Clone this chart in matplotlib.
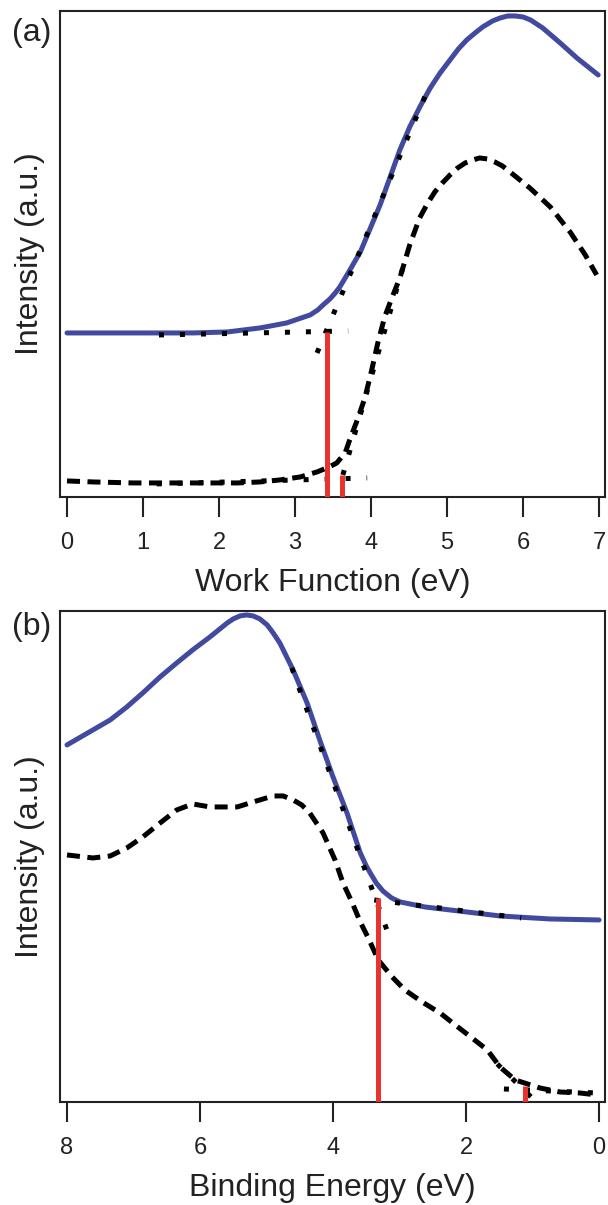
import matplotlib.pyplot as plt
import numpy as np

plt.rcParams['font.family'] = ['Liberation Sans', 'DejaVu Sans']

# ---- panel (a): work function ----
wf_x = [0.00, 0.79, 1.66, 2.11, 2.54, 2.89, 3.20, 3.30, 3.37, 3.46, 3.53, 3.59, 3.70,
        3.86, 4.12, 4.38, 4.51, 4.65, 4.78, 4.91, 5.04, 5.15, 5.26, 5.37, 5.47, 5.60,
        5.70, 5.80, 5.90, 6.00, 6.10, 6.26, 6.49, 6.71, 6.99]
wf_blue = [1.64, 1.64, 1.64, 1.65, 1.69, 1.74, 1.82, 1.87, 1.92, 1.98, 2.04, 2.10, 2.24,
           2.45, 2.92, 3.47, 3.70, 3.91, 4.09, 4.24, 4.37, 4.48, 4.57, 4.64, 4.70, 4.76,
           4.79, 4.81, 4.81, 4.80, 4.77, 4.69, 4.54, 4.39, 4.22]

wf_x2 = [0.00, 0.34, 0.87, 1.71, 2.24, 2.54, 2.80, 3.07, 3.29, 3.45, 3.55, 3.66, 3.72,
         3.82, 3.92, 4.01, 4.09, 4.18, 4.28, 4.38, 4.51, 4.64, 4.74, 4.84, 4.94, 5.04,
         5.14, 5.24, 5.34, 5.43, 5.53, 5.63, 5.73, 5.83, 6.09, 6.36, 6.62, 6.82, 6.97]
wf_dash = [0.16, 0.15, 0.14, 0.14, 0.14, 0.15, 0.17, 0.20, 0.25, 0.30, 0.34, 0.44, 0.57,
           0.77, 0.99, 1.27, 1.54, 1.80, 2.00, 2.19, 2.52, 2.79, 2.93, 3.05, 3.14, 3.22,
           3.29, 3.34, 3.37, 3.39, 3.38, 3.35, 3.31, 3.25, 3.09, 2.90, 2.65, 2.42, 2.22]

# linear fits (x0, x1, y0, y1)
wf_fits = [(1.21, 3.70, 1.62, 1.66),
           (3.29, 4.78, 1.44, 4.13),
           (1.18, 3.95, 0.13, 0.19),
           (3.63, 4.45, 0.22, 2.37)]
wf_onsets = [3.42, 3.62]
wf_onset_top = [1.65, 0.22]

# ---- panel (b): binding energy ----
be_x = [8.00, 7.61, 7.35, 7.10, 6.86, 6.60, 6.35, 6.11, 5.85, 5.59, 5.50, 5.40, 5.30,
        5.20, 5.10, 4.99, 4.90, 4.80, 4.60, 4.39, 4.20, 4.00, 3.79, 3.59, 3.50, 3.44,
        3.35, 3.25, 3.12, 2.99, 2.62, 2.24, 1.49, 0.74, 0.00]
be_blue = [3.57, 3.72, 3.82, 3.95, 4.09, 4.25, 4.39, 4.52, 4.65, 4.79, 4.83, 4.86, 4.87,
           4.86, 4.83, 4.77, 4.69, 4.59, 4.32, 3.99, 3.62, 3.25, 2.89, 2.49, 2.36, 2.29,
           2.19, 2.11, 2.04, 2.00, 1.95, 1.92, 1.86, 1.83, 1.82]

be_x2 = [8.00, 7.61, 7.35, 7.10, 6.86, 6.60, 6.35, 6.11, 5.85, 5.44, 5.20, 4.90, 4.75,
         4.60, 4.47, 4.35, 4.15, 3.97, 3.85, 3.71, 3.59, 3.47, 3.32, 3.11, 2.92, 2.66,
         2.39, 2.20, 1.91, 1.68, 1.49, 1.26, 0.89, 0.59, 0.29, 0.03]
be_dash = [2.47, 2.44, 2.46, 2.54, 2.65, 2.79, 2.92, 2.98, 2.95, 2.95, 3.00, 3.06, 3.06,
           3.02, 2.97, 2.89, 2.69, 2.42, 2.19, 1.99, 1.80, 1.64, 1.42, 1.25, 1.12, 1.00,
           0.89, 0.79, 0.64, 0.52, 0.35, 0.22, 0.14, 0.10, 0.09, 0.07]

be_fits = [(4.62, 3.19, 4.34, 1.72),
           (3.38, 1.17, 2.02, 1.84),
           (1.53, 0.96, 0.38, 0.01),
           (1.43, 0.03, 0.13, 0.09)]
be_onsets = [3.32, 1.11]
be_onset_top = [2.04, 0.16]

blue = '#414a9e'
red = '#e8342c'
ink = '#222222'

fig = plt.figure(figsize=(6.08, 12.05), dpi=100)
ax1 = fig.add_axes([0.0987, 0.5876, 0.8964, 0.4033])
ax2 = fig.add_axes([0.0987, 0.0855, 0.8964, 0.4075])


def draw(ax, x, yb, x2, yd, fits, onsets, tops):
    ax.plot(x, yb, color=blue, lw=3.6, solid_capstyle='round', solid_joinstyle='round', zorder=2)
    ax.plot(x2, yd, color='black', lw=3.6, dashes=(2.6, 1.5), zorder=3)
    for x0, x1, y0, y1 in fits:
        ax.plot([x0, x1], [y0, y1], color='black', lw=3.6, dashes=(1.0, 3.2), zorder=4)
    for xo, t in zip(onsets, tops):
        ax.plot([xo, xo], [0, t], color=red, lw=3.6, solid_capstyle='butt', zorder=5)
    for s in ax.spines.values():
        s.set_linewidth(1.5)
        s.set_color(ink)
    ax.set_yticks([])
    ax.tick_params(axis='x', direction='out', length=14.5, width=1.5,
                   color=ink, labelsize=17, pad=11, labelcolor=ink)
    ax.set_ylabel('Intensity (a.u.)', fontsize=23, color=ink, labelpad=11)


draw(ax1, wf_x, wf_blue, wf_x2, wf_dash, wf_fits, wf_onsets, wf_onset_top)
ax1.set_xlim(-0.092, 7.08)
ax1.set_ylim(0, 4.86)
ax1.set_xticks(np.arange(0, 8, 1))
ax1.set_xlabel('Work Function (eV)', fontsize=23, color=ink, labelpad=10)

draw(ax2, be_x, be_blue, be_x2, be_dash, be_fits, be_onsets, be_onset_top)
ax2.set_xlim(8.105, -0.09)
ax2.set_ylim(0, 4.91)
ax2.set_xticks([8, 6, 4, 2, 0])
ax2.set_xlabel('Binding Energy (eV)', fontsize=23, color=ink, labelpad=10)

fig.text(12 / 608, 1 - 33 / 1205, '(a)', fontsize=23, va='center', ha='left', color=ink)
fig.text(12 / 608, 1 - 627 / 1205, '(b)', fontsize=23, va='center', ha='left', color=ink)

fig.savefig('out.png', dpi=100)
